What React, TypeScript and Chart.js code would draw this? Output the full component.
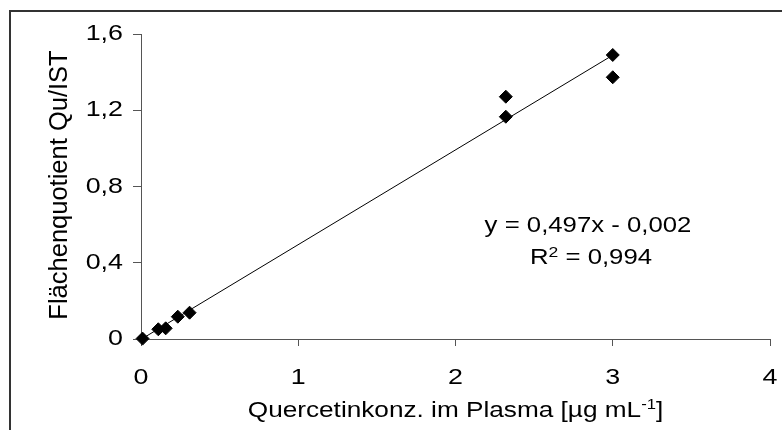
import React, { useEffect, useRef } from "react";
import { Chart, registerables } from "chart.js";

Chart.register(...registerables);

// ---- data ----
const concX = [0.01, 0.11, 0.157, 0.234, 0.309, 2.32, 2.32, 3.0, 3.0];
const ratioY = [0.002, 0.051, 0.056, 0.117, 0.138, 1.271, 1.166, 1.49, 1.373];
const trendX = [0, 3];
const trendY = [-0.002, 1.489];
const xTickLabels = ["0", "1", "2", "3", "4"];
const yTickLabels = ["0", "0,4", "0,8", "1,2", "1,6"];
const yAxisTitle = "Flächenquotient Qu/IST";
const xAxisTitle = ["Quercetinkonz. im Plasma [µg mL", "-1", "]"];
const eqText = "y = 0,497x - 0,002";
const r2Text = ["R", "2", " = 0,994"];

const FONT = '"Liberation Sans", Arial, Helvetica, sans-serif';
const AXIS = "#555555";

type Run = { text: string; size: number; dy: number };

function drawRuns(
  ctx: CanvasRenderingContext2D,
  runs: Run[],
  x: number,
  y: number,
  align: "left" | "center" | "right",
  sx: number
) {
  ctx.save();
  ctx.textBaseline = "alphabetic";
  ctx.textAlign = "left";
  let total = 0;
  const widths = runs.map((r) => {
    ctx.font = `${r.size}px ${FONT}`;
    const w = ctx.measureText(r.text).width;
    total += w;
    return w;
  });
  let off = align === "center" ? -total / 2 : align === "right" ? -total : 0;
  ctx.translate(x, y);
  ctx.scale(sx, 1);
  runs.forEach((r, i) => {
    ctx.font = `${r.size}px ${FONT}`;
    ctx.fillText(r.text, off, r.dy);
    off += widths[i];
  });
  ctx.restore();
}

const textPlugin = {
  id: "customText",
  afterDraw(chart: any) {
    const ctx: CanvasRenderingContext2D = chart.ctx;
    const xs = chart.scales.x;
    const ys = chart.scales.y;
    ctx.save();
    ctx.fillStyle = "#000";
    // x tick labels
    xs.ticks.forEach((t: any, i: number) => {
      const px = xs.getPixelForValue(t.value);
      drawRuns(ctx, [{ text: xTickLabels[i] ?? String(t.value), size: 22, dy: 0 }], px, 384, "center", 1.22);
    });
    // y tick labels
    ys.ticks.forEach((t: any, i: number) => {
      const py = ys.getPixelForValue(t.value);
      drawRuns(ctx, [{ text: yTickLabels[i] ?? String(t.value), size: 22, dy: 0 }], 123, py + 6, "right", 1.22);
    });
    // x axis title
    const cx = (chart.chartArea.left + chart.chartArea.right) / 2;
    drawRuns(
      ctx,
      [
        { text: xAxisTitle[0], size: 22, dy: 0 },
        { text: xAxisTitle[1], size: 14, dy: -8 },
        { text: xAxisTitle[2], size: 22, dy: 0 },
      ],
      cx,
      417,
      "center",
      1.19
    );
    // y axis title (rotated)
    ctx.save();
    ctx.translate(67, 185);
    ctx.rotate(-Math.PI / 2);
    ctx.scale(1, 1.03);
    ctx.font = `25.5px ${FONT}`;
    ctx.textAlign = "center";
    ctx.textBaseline = "alphabetic";
    ctx.fillText(yAxisTitle, 0, 0);
    ctx.restore();
    // regression text
    drawRuns(ctx, [{ text: eqText, size: 22, dy: 0 }], 588, 232, "center", 1.17);
    drawRuns(
      ctx,
      [
        { text: r2Text[0], size: 22, dy: 0 },
        { text: r2Text[1], size: 15, dy: -7 },
        { text: r2Text[2], size: 22, dy: 0 },
      ],
      591,
      264,
      "center",
      1.17
    );
    ctx.restore();
  },
};

export default function App() {
  const ref = useRef<HTMLCanvasElement | null>(null);
  useEffect(() => {
    if (!ref.current) return;
    const chart = new Chart(ref.current, {
      type: "scatter",
      data: {
        datasets: [
          {
            type: "line",
            data: trendX.map((x, i) => ({ x, y: trendY[i] })),
            borderColor: "#000",
            borderWidth: 1,
            pointRadius: 0,
            fill: false,
            tension: 0,
            clip: false,
          } as any,
          {
            type: "scatter",
            data: concX.map((x, i) => ({ x, y: ratioY[i] })),
            pointStyle: "rectRot",
            pointRadius: 6.5,
            backgroundColor: "#000",
            borderColor: "#000",
            borderWidth: 1,
            clip: false,
          } as any,
        ],
      },
      options: {
        animation: false,
        responsive: false,
        devicePixelRatio: 1,
        layout: { padding: { top: 34, right: 12, left: 0, bottom: 0 } },
        plugins: {
          legend: { display: false },
          tooltip: { enabled: false },
          title: { display: false },
        },
        scales: {
          x: {
            type: "linear",
            min: 0,
            max: 4,
            ticks: { display: false, stepSize: 1 },
            grid: { drawOnChartArea: false, drawTicks: true, tickLength: 7, color: AXIS, lineWidth: 1 },
            border: { display: true, color: AXIS, width: 1 },
            afterFit: (s: any) => {
              s.height = 91;
            },
          },
          y: {
            type: "linear",
            min: 0,
            max: 1.6,
            ticks: { display: false, stepSize: 0.4 },
            grid: { drawOnChartArea: false, drawTicks: true, tickLength: 8, color: AXIS, lineWidth: 1 },
            border: { display: true, color: AXIS, width: 1 },
            afterFit: (s: any) => {
              s.width = 141;
            },
          },
        },
      } as any,
      plugins: [textPlugin],
    });
    return () => chart.destroy();
  }, []);

  return (
    <div style={{ position: "absolute", left: 0, top: 0, width: 782, height: 430, overflow: "hidden", background: "#fff" }}>
      <div
        style={{
          position: "absolute",
          left: 9,
          top: 10,
          width: 800,
          height: 450,
          border: "2px solid #333",
        }}
      />
      <canvas ref={ref} width={782} height={430} style={{ position: "absolute", left: 0, top: 0 }} />
    </div>
  );
}
